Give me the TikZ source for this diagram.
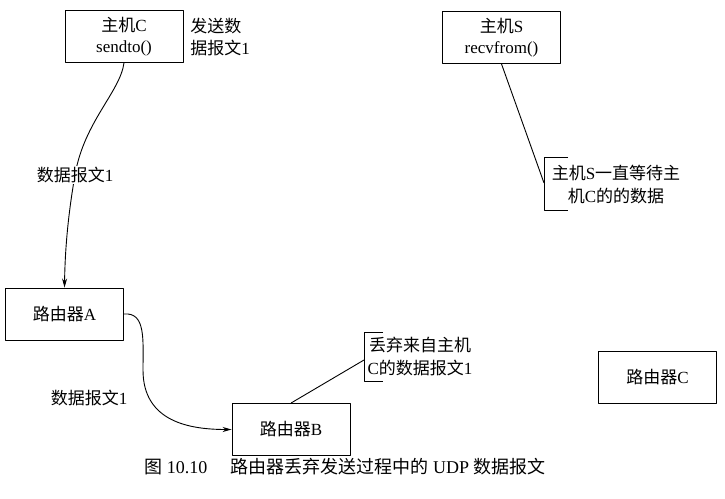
\documentclass[tikz,border=0pt]{standalone}
\usepackage{fontspec}
\setmainfont{Liberation Serif}
\newfontfamily\cjk{Noto Sans CJK SC}
\newcommand{\zh}[1]{{\cjk #1}}
\usetikzlibrary{arrows.meta}

\tikzset{
  hostbox/.style={draw, line width=0.9pt, minimum width=118pt, minimum height=52pt,
    inner sep=0pt, align=center, font=\fontsize{17}{20.5}\selectfont},
  tag/.style={inner sep=1pt, align=left, font=\fontsize{17}{22.5}\selectfont},
  link/.style={line width=0.9pt, -{Stealth[length=9pt,width=5pt]}},
  note/.style={line width=0.9pt}
}

\begin{document}
\begin{tikzpicture}[x=1pt, y=-1pt, line join=round]

  %% ════ 主机与路由器 ════
  \node[hostbox] (hostC) at (124.0,36.5) {\zh{主机}C\\sendto()};
  \node[hostbox] (hostS) at (501.5,37.5) {\zh{主机}S\\recvfrom()};
  \node[hostbox] (routerA) at (64.5,314.0) {\zh{路由器}A};
  \node[hostbox] (routerB) at (291.0,429.5) {\zh{路由器}B};
  \node[hostbox] (routerC) at (657.5,377.0) {\zh{路由器}C};

  %% ════ 说明文字 ════
  \node[tag] (sendTag) at (220.0,37.0) {\zh{发送数}\\\zh{据报文}1};
  \node[tag, align=center] (waitTag) at (616.0,184.5) {\zh{主机}S\zh{一直等待主}\\\zh{机}C\zh{的的数据}};
  \node[tag, align=center] (dropTag) at (420.0,356.5) {\zh{丢弃来自主机}\\C\zh{的数据报文}1};

  %% ════ 数据报文 1 的路径 ════
  \coordinate (midC) at (75.0,175.0);
  \coordinate (bendA) at (143.0,370.0);
  \draw[link] (hostC.south) .. controls (120.0,92.0) and (84.0,122.0) .. (midC)
                            .. controls (68.0,215.0) and (65.0,250.0) .. (routerA.north);
  \node[tag, fill=white] (pathOne) at (midC) {\zh{数据报文}1};
  \draw[link] (routerA.east) .. controls (146.0,312.0) and (143.0,340.0) .. (bendA)
                             .. controls (143.0,422.0) and (190.0,429.5) .. (routerB.west);
  \node[tag] (pathTwo) at (89.0,398.0) {\zh{数据报文}1};

  %% ════ 注释括号 ════
  \coordinate (waitL) at (544.0,183.0);
  \coordinate (dropL) at (364.0,360.0);
  \draw[note] (hostS.south) -- (waitL);
  \draw[note] (568.0,157.0) -- (544.0,157.0) -- (544.0,210.0) -- (568.0,210.0);
  \draw[note] (routerB.north) -- (dropL);
  \draw[note] (383.0,332.0) -- (364.0,332.0) -- (364.0,381.0) -- (383.0,381.0);

  %% ════ 图题 ════
  \node[inner sep=0pt, font=\fontsize{18}{21}\selectfont] (caption) at (345.0,467.0)
    {\zh{图} 10.10\hspace{1.3em}\zh{路由器丢弃发送过程中的} UDP \zh{数据报文}};

  \pgfresetboundingbox
  \path[use as bounding box] (0,0) rectangle (725,498);
\end{tikzpicture}
\end{document}
